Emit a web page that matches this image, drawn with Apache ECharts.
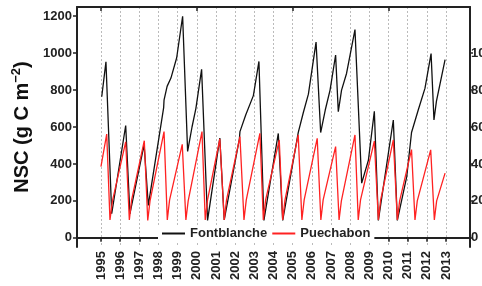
<!DOCTYPE html>
<html>
<head>
<meta charset="utf-8">
<script src="https://cdn.jsdelivr.net/npm/echarts@6/dist/echarts.min.js"></script>
<style>
html,body{margin:0;padding:0;background:#fff}
#chart{width:482px;height:286px}
</style>
</head>
<body>
<div id="chart"></div>
<script>
// tick positions
var years = [1995,1996,1997,1998,1999,2000,2001,2002,2003,2004,2005,2006,2007,2008,2009,2010,2011,2012,2013];
var topTicks = [1995,2000,2005,2010];
var leftTicks = [0,200,400,600,800,1000,1200];
var rightTicks = [0,20,40,60,80,100];

// Fontblanche (black) - decimal year / NSC
var fbTime = [1995.04,1995.26,1995.56,1996.29,1996.51,1997.25,1997.47,1998.27,1998.29,1998.45,1998.65,1998.95,1999.26,1999.52,1999.75,1999.95,2000.25,2000.56,2001.2,2001.43,2002.22,2002.25,2002.55,2002.95,2003.24,2003.5,2004.25,2004.48,2005.29,2005.56,2005.82,2006.22,2006.46,2006.7,2006.95,2007.24,2007.38,2007.55,2007.81,2008.25,2008.6,2008.95,2009.26,2009.47,2010.25,2010.46,2010.95,2011.2,2011.28,2011.55,2011.9,2012.22,2012.37,2012.5,2012.95];
var fbNSC = [764,953,130,608,130,505,175,705,745,820,865,975,1200,468,600,700,912,94,540,97,535,575,665,770,955,94,565,94,570,680,778,1060,570,692,800,990,683,800,890,1128,296,420,685,94,638,94,331,570,562,692,809,998,638,740,965];

// Puechabon (red)
var pbTime = [1995.0,1995.3,1995.47,1995.6,1996.29,1996.48,1996.6,1997.26,1997.44,1997.56,1998.29,1998.46,1998.58,1999.24,1999.43,1999.55,2000.27,2000.44,2000.56,2001.2,2001.43,2001.55,2002.25,2002.46,2002.58,2003.29,2003.47,2003.59,2004.3,2004.48,2004.6,2005.29,2005.48,2005.6,2006.28,2006.47,2006.59,2007.24,2007.42,2007.54,2008.25,2008.42,2008.54,2009.26,2009.47,2009.59,2010.25,2010.46,2010.58,2011.2,2011.38,2011.5,2012.2,2012.39,2012.51,2012.95];
var pbNSC = [385,562,97,200,520,97,205,526,94,200,575,97,205,506,97,200,575,97,205,535,97,205,548,97,205,566,97,205,530,97,205,557,97,205,539,97,205,494,97,200,557,97,205,524,97,205,530,97,200,478,97,200,476,97,200,350];

function zip(a, b){
    var out = [];
    for(var i=0;i<a.length;i++) out.push([a[i], b[i]]);
    return out;
}
function plain(v){ return String(v); }

var myChart = echarts.init(document.getElementById('chart'));
var axisCol = '#222';
var lblFont = {color:'#222', fontSize:13, fontWeight:'bold', fontFamily:'Liberation Sans, Arial, sans-serif', formatter: plain};

var option = {
    animation: false,
    grid: {left: 77, right: 12, top: 7, bottom: 39, outerBoundsMode: 'none', containLabel: false},
    legend: {
        left: 158, top: 225,
        padding: [2,4],
        backgroundColor: '#fff',
        icon: 'rect',
        itemWidth: 23, itemHeight: 2,
        itemGap: 5,
        textStyle: {color:'#222', fontSize:13, fontWeight:'bold', fontFamily:'Liberation Sans, Arial, sans-serif'},
        data: ['Fontblanche','Puechabon']
    },
    xAxis: [
        {
            type: 'value', min: 1993.75, max: 2014.25,
            axisLine: {lineStyle: {color: axisCol, width: 2}},
            axisTick: {length: 4, customValues: years, lineStyle: {color: axisCol, width: 1.5}},
            axisLabel: Object.assign({customValues: years, rotate: 90, margin: 4}, lblFont),
            splitLine: {show: true, lineStyle: {color: '#bbb', type: [2,2], width: 1}}
        },
        {
            type: 'value', position: 'top', min: 1993.75, max: 2014.25,
            axisLine: {show: true, onZero: false, lineStyle: {color: axisCol, width: 2}},
            axisTick: {inside: true, length: 4, customValues: topTicks, lineStyle: {color: axisCol, width: 1.5}},
            axisLabel: {show: false},
            splitLine: {show: false}
        }
    ],
    yAxis: [
        {
            type: 'value', min: -50, max: 1250,
            name: '{a|NSC (g C m}{b|−2}{a|)}',
            nameLocation: 'middle', nameRotate: 90, nameGap: 40,
            nameTextStyle: {
                rich: {
                    a: {fontSize: 20, fontWeight: 'bold', color: '#111', fontFamily: 'Liberation Sans, Arial, sans-serif'},
                    b: {fontSize: 13, fontWeight: 'bold', color: '#111', fontFamily: 'Liberation Sans, Arial, sans-serif', padding: [0,0,12,0]}
                }
            },
            axisLine: {show: true, onZero: false, lineStyle: {color: axisCol, width: 2}},
            axisTick: {show: true, length: 4, customValues: leftTicks, lineStyle: {color: axisCol, width: 1.5}},
            axisLabel: Object.assign({customValues: leftTicks, margin: 5}, lblFont),
            splitLine: {show: false}
        },
        {
            type: 'value', position: 'right', min: -5, max: 125,
            axisLine: {show: true, onZero: false, lineStyle: {color: axisCol, width: 2}},
            axisTick: {show: true, length: 3, customValues: rightTicks, lineStyle: {color: axisCol, width: 1.5}},
            axisLabel: Object.assign({customValues: rightTicks, margin: 1}, lblFont),
            splitLine: {show: false}
        }
    ],
    series: [
        {
            name: 'Fontblanche', type: 'line', xAxisIndex: 0, yAxisIndex: 0,
            showSymbol: false, symbol: 'none',
            color: '#111',
            lineStyle: {color: '#111', width: 1.3},
            data: zip(fbTime, fbNSC)
        },
        {
            name: 'Puechabon', type: 'line', xAxisIndex: 0, yAxisIndex: 0,
            showSymbol: false, symbol: 'none',
            color: '#f22',
            lineStyle: {color: '#f22', width: 1.3},
            data: zip(pbTime, pbNSC)
        }
    ]
};
myChart.setOption(option);
</script>
</body>
</html>
